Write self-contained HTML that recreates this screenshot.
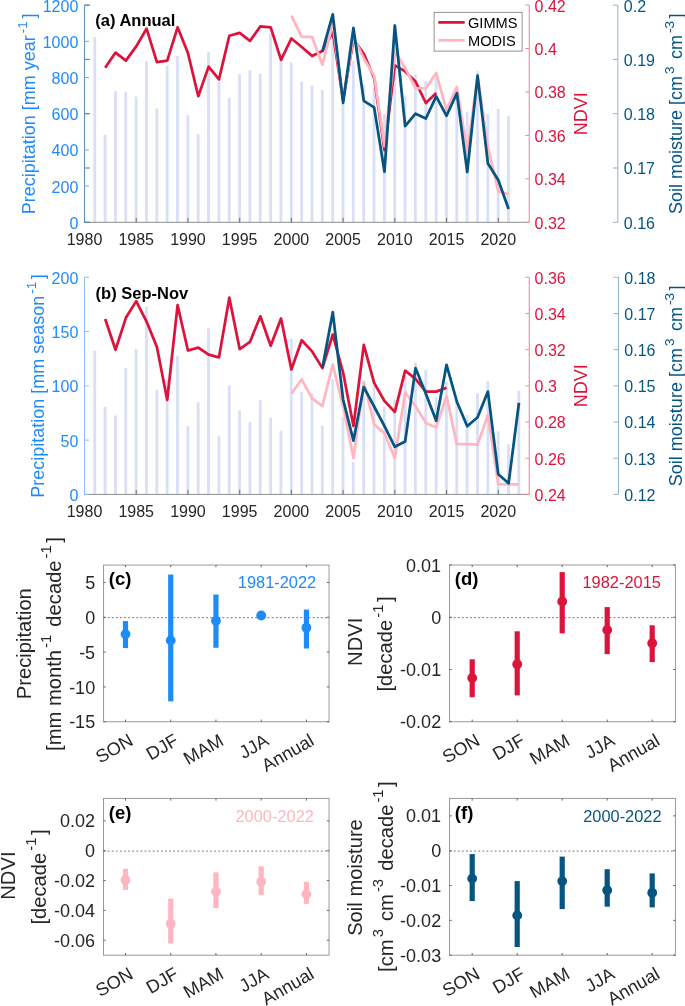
<!DOCTYPE html>
<html><head><meta charset="utf-8"><style>
html,body{margin:0;padding:0;background:#fff;}
svg{display:block;font-family:"Liberation Sans", sans-serif;will-change:transform;}
</style></head><body>
<svg width="685" height="1006" viewBox="0 0 685 1006">
<rect width="685" height="1006" fill="#fff"/>
<rect x="93.34" y="37.00" width="2.8" height="185.30" fill="#d9dff6"/>
<rect x="103.69" y="134.90" width="2.8" height="87.40" fill="#d9dff6"/>
<rect x="114.03" y="91.00" width="2.8" height="131.30" fill="#d9dff6"/>
<rect x="124.38" y="91.90" width="2.8" height="130.40" fill="#d9dff6"/>
<rect x="134.72" y="96.60" width="2.8" height="125.70" fill="#d9dff6"/>
<rect x="145.06" y="61.10" width="2.8" height="161.20" fill="#d9dff6"/>
<rect x="155.41" y="108.50" width="2.8" height="113.80" fill="#d9dff6"/>
<rect x="165.75" y="65.30" width="2.8" height="157.00" fill="#d9dff6"/>
<rect x="176.10" y="55.90" width="2.8" height="166.40" fill="#d9dff6"/>
<rect x="186.44" y="115.20" width="2.8" height="107.10" fill="#d9dff6"/>
<rect x="196.78" y="134.20" width="2.8" height="88.10" fill="#d9dff6"/>
<rect x="207.13" y="52.10" width="2.8" height="170.20" fill="#d9dff6"/>
<rect x="217.47" y="81.60" width="2.8" height="140.70" fill="#d9dff6"/>
<rect x="227.82" y="97.70" width="2.8" height="124.60" fill="#d9dff6"/>
<rect x="238.16" y="74.00" width="2.8" height="148.30" fill="#d9dff6"/>
<rect x="248.50" y="70.20" width="2.8" height="152.10" fill="#d9dff6"/>
<rect x="258.85" y="73.60" width="2.8" height="148.70" fill="#d9dff6"/>
<rect x="269.19" y="33.50" width="2.8" height="188.80" fill="#d9dff6"/>
<rect x="279.54" y="53.70" width="2.8" height="168.60" fill="#d9dff6"/>
<rect x="289.88" y="62.60" width="2.8" height="159.70" fill="#d9dff6"/>
<rect x="300.22" y="81.80" width="2.8" height="140.50" fill="#d9dff6"/>
<rect x="310.57" y="85.40" width="2.8" height="136.90" fill="#d9dff6"/>
<rect x="320.91" y="90.10" width="2.8" height="132.20" fill="#d9dff6"/>
<rect x="331.26" y="41.80" width="2.8" height="180.50" fill="#d9dff6"/>
<rect x="341.60" y="103.50" width="2.8" height="118.80" fill="#d9dff6"/>
<rect x="351.94" y="60.80" width="2.8" height="161.50" fill="#d9dff6"/>
<rect x="362.29" y="84.50" width="2.8" height="137.80" fill="#d9dff6"/>
<rect x="372.63" y="88.30" width="2.8" height="134.00" fill="#d9dff6"/>
<rect x="382.98" y="114.00" width="2.8" height="108.30" fill="#d9dff6"/>
<rect x="393.32" y="40.00" width="2.8" height="182.30" fill="#d9dff6"/>
<rect x="403.66" y="96.00" width="2.8" height="126.30" fill="#d9dff6"/>
<rect x="414.01" y="74.60" width="2.8" height="147.70" fill="#d9dff6"/>
<rect x="424.35" y="80.90" width="2.8" height="141.40" fill="#d9dff6"/>
<rect x="434.70" y="77.30" width="2.8" height="145.00" fill="#d9dff6"/>
<rect x="445.04" y="111.00" width="2.8" height="111.30" fill="#d9dff6"/>
<rect x="455.38" y="95.00" width="2.8" height="127.30" fill="#d9dff6"/>
<rect x="465.73" y="111.90" width="2.8" height="110.40" fill="#d9dff6"/>
<rect x="476.07" y="71.20" width="2.8" height="151.10" fill="#d9dff6"/>
<rect x="486.42" y="114.00" width="2.8" height="108.30" fill="#d9dff6"/>
<rect x="496.76" y="108.90" width="2.8" height="113.40" fill="#d9dff6"/>
<rect x="507.10" y="115.80" width="2.8" height="106.50" fill="#d9dff6"/>
<polyline points="105.19,67.80 115.53,52.60 125.88,60.60 136.22,46.40 146.56,28.70 156.91,62.20 167.25,60.60 177.60,27.30 187.94,53.00 198.28,96.20 208.63,66.60 218.97,79.40 229.32,35.80 239.66,32.90 250.00,40.90 260.35,26.40 270.69,27.30 281.04,59.90 291.38,38.50 301.72,47.00 312.07,55.90 322.41,51.00 332.76,32.20 343.10,100.00 353.44,39.40 363.79,53.70 374.13,77.80 384.48,150.00 394.82,65.40 405.16,71.40 415.51,81.50 425.85,103.00 436.20,92.90" fill="none" stroke="#dc143c" stroke-width="2.75" stroke-linejoin="round" stroke-linecap="butt"/>
<polyline points="291.38,15.70 301.72,36.90 312.07,36.90 322.41,64.80 332.76,23.50 343.10,100.00 353.44,36.90 363.79,58.50 374.13,75.50 384.48,146.00 394.82,51.10 405.16,68.00 415.51,88.10 425.85,88.50 436.20,73.00 446.54,110.10 456.88,86.90 467.23,152.00 477.57,76.00 487.92,147.00 498.26,191.20 508.60,194.10" fill="none" stroke="#ffb6c1" stroke-width="2.75" stroke-linejoin="round" stroke-linecap="butt"/>
<polyline points="322.41,51.40 332.76,14.30 343.10,102.80 353.44,28.00 363.79,100.80 374.13,107.40 384.48,171.70 394.82,25.50 405.16,126.20 415.51,113.70 425.85,118.50 436.20,96.40 446.54,115.80 456.88,93.30 467.23,172.00 477.57,75.60 487.92,163.50 498.26,180.00 508.60,209.00" fill="none" stroke="#065581" stroke-width="2.75" stroke-linejoin="round" stroke-linecap="butt"/>
<line x1="84.50" y1="222.30" x2="529.25" y2="222.30" stroke="#8c8c8c" stroke-width="1" />
<line x1="84.50" y1="222.30" x2="84.50" y2="217.80" stroke="#555" stroke-width="0.8" />
<text x="84.50" y="244.60" font-size="16.0" fill="#262626" text-anchor="middle" font-weight="normal" >1980</text>
<line x1="136.22" y1="222.30" x2="136.22" y2="217.80" stroke="#555" stroke-width="0.8" />
<text x="136.22" y="244.60" font-size="16.0" fill="#262626" text-anchor="middle" font-weight="normal" >1985</text>
<line x1="187.94" y1="222.30" x2="187.94" y2="217.80" stroke="#555" stroke-width="0.8" />
<text x="187.94" y="244.60" font-size="16.0" fill="#262626" text-anchor="middle" font-weight="normal" >1990</text>
<line x1="239.66" y1="222.30" x2="239.66" y2="217.80" stroke="#555" stroke-width="0.8" />
<text x="239.66" y="244.60" font-size="16.0" fill="#262626" text-anchor="middle" font-weight="normal" >1995</text>
<line x1="291.38" y1="222.30" x2="291.38" y2="217.80" stroke="#555" stroke-width="0.8" />
<text x="291.38" y="244.60" font-size="16.0" fill="#262626" text-anchor="middle" font-weight="normal" >2000</text>
<line x1="343.10" y1="222.30" x2="343.10" y2="217.80" stroke="#555" stroke-width="0.8" />
<text x="343.10" y="244.60" font-size="16.0" fill="#262626" text-anchor="middle" font-weight="normal" >2005</text>
<line x1="394.82" y1="222.30" x2="394.82" y2="217.80" stroke="#555" stroke-width="0.8" />
<text x="394.82" y="244.60" font-size="16.0" fill="#262626" text-anchor="middle" font-weight="normal" >2010</text>
<line x1="446.54" y1="222.30" x2="446.54" y2="217.80" stroke="#555" stroke-width="0.8" />
<text x="446.54" y="244.60" font-size="16.0" fill="#262626" text-anchor="middle" font-weight="normal" >2015</text>
<line x1="498.26" y1="222.30" x2="498.26" y2="217.80" stroke="#555" stroke-width="0.8" />
<text x="498.26" y="244.60" font-size="16.0" fill="#262626" text-anchor="middle" font-weight="normal" >2020</text>
<line x1="84.50" y1="5.10" x2="84.50" y2="222.30" stroke="#5f93bd" stroke-width="1.1" />
<line x1="84.50" y1="222.30" x2="89.00" y2="222.30" stroke="#66aaf5" stroke-width="1" />
<text x="78.30" y="228.80" font-size="16.0" fill="#1e8bfb" text-anchor="end" font-weight="normal" >0</text>
<line x1="84.50" y1="186.10" x2="89.00" y2="186.10" stroke="#66aaf5" stroke-width="1" />
<text x="78.30" y="192.60" font-size="16.0" fill="#1e8bfb" text-anchor="end" font-weight="normal" >200</text>
<line x1="84.50" y1="149.90" x2="89.00" y2="149.90" stroke="#66aaf5" stroke-width="1" />
<text x="78.30" y="156.40" font-size="16.0" fill="#1e8bfb" text-anchor="end" font-weight="normal" >400</text>
<line x1="84.50" y1="113.70" x2="89.00" y2="113.70" stroke="#66aaf5" stroke-width="1" />
<text x="78.30" y="120.20" font-size="16.0" fill="#1e8bfb" text-anchor="end" font-weight="normal" >600</text>
<line x1="84.50" y1="77.50" x2="89.00" y2="77.50" stroke="#66aaf5" stroke-width="1" />
<text x="78.30" y="84.00" font-size="16.0" fill="#1e8bfb" text-anchor="end" font-weight="normal" >800</text>
<line x1="84.50" y1="41.30" x2="89.00" y2="41.30" stroke="#66aaf5" stroke-width="1" />
<text x="78.30" y="47.80" font-size="16.0" fill="#1e8bfb" text-anchor="end" font-weight="normal" >1000</text>
<line x1="84.50" y1="5.10" x2="89.00" y2="5.10" stroke="#66aaf5" stroke-width="1" />
<text x="78.30" y="11.60" font-size="16.0" fill="#1e8bfb" text-anchor="end" font-weight="normal" >1200</text>
<line x1="84.50" y1="222.30" x2="90.00" y2="222.30" stroke="#4a7fa5" stroke-width="1" />
<line x1="84.50" y1="168.00" x2="90.00" y2="168.00" stroke="#4a7fa5" stroke-width="1" />
<line x1="84.50" y1="113.70" x2="90.00" y2="113.70" stroke="#4a7fa5" stroke-width="1" />
<line x1="84.50" y1="59.40" x2="90.00" y2="59.40" stroke="#4a7fa5" stroke-width="1" />
<line x1="84.50" y1="5.10" x2="90.00" y2="5.10" stroke="#4a7fa5" stroke-width="1" />
<line x1="529.25" y1="5.10" x2="529.25" y2="222.30" stroke="#ea8299" stroke-width="1" />
<line x1="525.25" y1="222.30" x2="529.25" y2="222.30" stroke="#ee8ea3" stroke-width="1" />
<text x="534.60" y="228.70" font-size="16.0" fill="#dc143c" text-anchor="start" font-weight="normal" >0.32</text>
<line x1="525.25" y1="178.86" x2="529.25" y2="178.86" stroke="#ee8ea3" stroke-width="1" />
<text x="534.60" y="185.26" font-size="16.0" fill="#dc143c" text-anchor="start" font-weight="normal" >0.34</text>
<line x1="525.25" y1="135.42" x2="529.25" y2="135.42" stroke="#ee8ea3" stroke-width="1" />
<text x="534.60" y="141.82" font-size="16.0" fill="#dc143c" text-anchor="start" font-weight="normal" >0.36</text>
<line x1="525.25" y1="91.98" x2="529.25" y2="91.98" stroke="#ee8ea3" stroke-width="1" />
<text x="534.60" y="98.38" font-size="16.0" fill="#dc143c" text-anchor="start" font-weight="normal" >0.38</text>
<line x1="525.25" y1="48.54" x2="529.25" y2="48.54" stroke="#ee8ea3" stroke-width="1" />
<text x="534.60" y="54.94" font-size="16.0" fill="#dc143c" text-anchor="start" font-weight="normal" >0.4</text>
<line x1="525.25" y1="5.10" x2="529.25" y2="5.10" stroke="#ee8ea3" stroke-width="1" />
<text x="534.60" y="11.50" font-size="16.0" fill="#dc143c" text-anchor="start" font-weight="normal" >0.42</text>
<line x1="617.80" y1="5.10" x2="617.80" y2="222.30" stroke="#8fb3cc" stroke-width="1" />
<line x1="612.80" y1="222.30" x2="617.80" y2="222.30" stroke="#8fb3cc" stroke-width="1" />
<text x="623.80" y="228.70" font-size="16.0" fill="#065581" text-anchor="start" font-weight="normal" >0.16</text>
<line x1="612.80" y1="168.00" x2="617.80" y2="168.00" stroke="#8fb3cc" stroke-width="1" />
<text x="623.80" y="174.40" font-size="16.0" fill="#065581" text-anchor="start" font-weight="normal" >0.17</text>
<line x1="612.80" y1="113.70" x2="617.80" y2="113.70" stroke="#8fb3cc" stroke-width="1" />
<text x="623.80" y="120.10" font-size="16.0" fill="#065581" text-anchor="start" font-weight="normal" >0.18</text>
<line x1="612.80" y1="59.40" x2="617.80" y2="59.40" stroke="#8fb3cc" stroke-width="1" />
<text x="623.80" y="65.80" font-size="16.0" fill="#065581" text-anchor="start" font-weight="normal" >0.19</text>
<line x1="612.80" y1="5.10" x2="617.80" y2="5.10" stroke="#8fb3cc" stroke-width="1" />
<text x="623.80" y="11.50" font-size="16.0" fill="#065581" text-anchor="start" font-weight="normal" >0.2</text>
<text transform="translate(35.00,113.90) rotate(-90)" font-size="18" fill="#1e8bfb" text-anchor="middle">Precipitation [mm year<tspan font-size="13.5" dx="2.0" dy="-8.0">-1</tspan><tspan dx="2.5" dy="8.0">]</tspan></text>
<text transform="translate(587.00,113.70) rotate(-90)" font-size="18" fill="#dc143c" text-anchor="middle">NDVI</text>
<text transform="translate(681.70,113.70) rotate(-90)" font-size="18" fill="#065581" text-anchor="middle">Soil moisture [cm<tspan font-size="13.5" dx="2.0" dy="-8.0">3</tspan><tspan dx="2.5" dy="8.0"> cm</tspan><tspan font-size="13.5" dx="2.0" dy="-8.0">-3</tspan><tspan dx="2.5" dy="8.0">]</tspan></text>
<text x="95.30" y="26.40" font-size="16.5" fill="#000" text-anchor="start" font-weight="bold" >(a) Annual</text>
<rect x="434.1" y="12.3" width="88.0" height="38.8" fill="#fff" stroke="#777" stroke-width="0.8"/>
<line x1="438.30" y1="22.40" x2="464.70" y2="22.40" stroke="#dc143c" stroke-width="2.75" />
<line x1="438.30" y1="40.30" x2="464.70" y2="40.30" stroke="#ffb6c1" stroke-width="2.75" />
<text x="468.00" y="28.10" font-size="14.6" fill="#000" text-anchor="start" font-weight="normal" >GIMMS</text>
<text x="468.00" y="46.00" font-size="14.6" fill="#000" text-anchor="start" font-weight="normal" >MODIS</text>
<rect x="93.34" y="350.70" width="2.8" height="143.70" fill="#d9dff6"/>
<rect x="103.69" y="407.00" width="2.8" height="87.40" fill="#d9dff6"/>
<rect x="114.03" y="415.50" width="2.8" height="78.90" fill="#d9dff6"/>
<rect x="124.38" y="368.10" width="2.8" height="126.30" fill="#d9dff6"/>
<rect x="134.72" y="348.90" width="2.8" height="145.50" fill="#d9dff6"/>
<rect x="145.06" y="306.70" width="2.8" height="187.70" fill="#d9dff6"/>
<rect x="155.41" y="389.80" width="2.8" height="104.60" fill="#d9dff6"/>
<rect x="165.75" y="380.00" width="2.8" height="114.40" fill="#d9dff6"/>
<rect x="176.10" y="355.80" width="2.8" height="138.60" fill="#d9dff6"/>
<rect x="186.44" y="426.30" width="2.8" height="68.10" fill="#d9dff6"/>
<rect x="196.78" y="402.30" width="2.8" height="92.10" fill="#d9dff6"/>
<rect x="207.13" y="328.30" width="2.8" height="166.10" fill="#d9dff6"/>
<rect x="217.47" y="435.70" width="2.8" height="58.70" fill="#d9dff6"/>
<rect x="227.82" y="385.40" width="2.8" height="109.00" fill="#d9dff6"/>
<rect x="238.16" y="410.60" width="2.8" height="83.80" fill="#d9dff6"/>
<rect x="248.50" y="421.80" width="2.8" height="72.60" fill="#d9dff6"/>
<rect x="258.85" y="400.10" width="2.8" height="94.30" fill="#d9dff6"/>
<rect x="269.19" y="417.80" width="2.8" height="76.60" fill="#d9dff6"/>
<rect x="279.54" y="430.70" width="2.8" height="63.70" fill="#d9dff6"/>
<rect x="289.88" y="338.80" width="2.8" height="155.60" fill="#d9dff6"/>
<rect x="300.22" y="392.10" width="2.8" height="102.30" fill="#d9dff6"/>
<rect x="310.57" y="393.40" width="2.8" height="101.00" fill="#d9dff6"/>
<rect x="320.91" y="425.80" width="2.8" height="68.60" fill="#d9dff6"/>
<rect x="331.26" y="379.20" width="2.8" height="115.20" fill="#d9dff6"/>
<rect x="341.60" y="416.70" width="2.8" height="77.70" fill="#d9dff6"/>
<rect x="351.94" y="462.00" width="2.8" height="32.40" fill="#d9dff6"/>
<rect x="362.29" y="396.40" width="2.8" height="98.00" fill="#d9dff6"/>
<rect x="372.63" y="385.40" width="2.8" height="109.00" fill="#d9dff6"/>
<rect x="382.98" y="406.60" width="2.8" height="87.80" fill="#d9dff6"/>
<rect x="393.32" y="399.80" width="2.8" height="94.60" fill="#d9dff6"/>
<rect x="403.66" y="375.00" width="2.8" height="119.40" fill="#d9dff6"/>
<rect x="414.01" y="362.50" width="2.8" height="131.90" fill="#d9dff6"/>
<rect x="424.35" y="369.90" width="2.8" height="124.50" fill="#d9dff6"/>
<rect x="434.70" y="397.20" width="2.8" height="97.20" fill="#d9dff6"/>
<rect x="445.04" y="381.60" width="2.8" height="112.80" fill="#d9dff6"/>
<rect x="455.38" y="400.00" width="2.8" height="94.40" fill="#d9dff6"/>
<rect x="465.73" y="415.10" width="2.8" height="79.30" fill="#d9dff6"/>
<rect x="476.07" y="393.20" width="2.8" height="101.20" fill="#d9dff6"/>
<rect x="486.42" y="380.90" width="2.8" height="113.50" fill="#d9dff6"/>
<rect x="496.76" y="431.20" width="2.8" height="63.20" fill="#d9dff6"/>
<rect x="507.10" y="444.20" width="2.8" height="50.20" fill="#d9dff6"/>
<rect x="517.45" y="390.90" width="2.8" height="103.50" fill="#d9dff6"/>
<polyline points="105.19,319.00 115.53,349.80 125.88,317.80 136.22,301.10 146.56,321.60 156.91,346.90 167.25,399.90 177.60,305.10 187.94,350.50 198.28,347.60 208.63,354.70 218.97,357.40 229.32,297.70 239.66,349.10 250.00,341.80 260.35,316.30 270.69,345.80 281.04,318.50 291.38,369.50 301.72,340.20 312.07,351.40 322.41,368.10 332.76,334.50 343.10,372.50 353.44,426.00 363.79,344.80 374.13,382.90 384.48,401.00 394.82,411.90 405.16,370.60 415.51,378.90 425.85,391.60 436.20,391.60 446.54,387.80" fill="none" stroke="#dc143c" stroke-width="2.75" stroke-linejoin="round" stroke-linecap="butt"/>
<polyline points="291.38,393.80 301.72,379.30 312.07,398.30 322.41,406.10 332.76,364.50 343.10,406.60 353.44,458.00 363.79,382.00 374.13,424.20 384.48,433.40 394.82,458.00 405.16,392.50 415.51,406.10 425.85,422.90 436.20,427.40 446.54,396.10 456.88,444.20 467.23,444.20 477.57,444.60 487.92,415.10 498.26,484.00 508.60,484.40 518.95,484.40" fill="none" stroke="#ffb6c1" stroke-width="2.75" stroke-linejoin="round" stroke-linecap="butt"/>
<polyline points="322.41,368.10 332.76,312.20 343.10,399.50 353.44,440.60 363.79,387.10 374.13,406.50 384.48,426.20 394.82,446.80 405.16,441.50 415.51,368.10 425.85,393.80 436.20,420.70 446.54,364.80 456.88,401.70 467.23,426.30 477.57,417.30 487.92,391.60 498.26,474.30 508.60,483.30 518.95,402.80" fill="none" stroke="#065581" stroke-width="2.75" stroke-linejoin="round" stroke-linecap="butt"/>
<line x1="84.50" y1="494.40" x2="529.25" y2="494.40" stroke="#8c8c8c" stroke-width="1" />
<line x1="84.50" y1="494.40" x2="84.50" y2="489.90" stroke="#555" stroke-width="0.8" />
<text x="84.50" y="516.70" font-size="16.0" fill="#262626" text-anchor="middle" font-weight="normal" >1980</text>
<line x1="136.22" y1="494.40" x2="136.22" y2="489.90" stroke="#555" stroke-width="0.8" />
<text x="136.22" y="516.70" font-size="16.0" fill="#262626" text-anchor="middle" font-weight="normal" >1985</text>
<line x1="187.94" y1="494.40" x2="187.94" y2="489.90" stroke="#555" stroke-width="0.8" />
<text x="187.94" y="516.70" font-size="16.0" fill="#262626" text-anchor="middle" font-weight="normal" >1990</text>
<line x1="239.66" y1="494.40" x2="239.66" y2="489.90" stroke="#555" stroke-width="0.8" />
<text x="239.66" y="516.70" font-size="16.0" fill="#262626" text-anchor="middle" font-weight="normal" >1995</text>
<line x1="291.38" y1="494.40" x2="291.38" y2="489.90" stroke="#555" stroke-width="0.8" />
<text x="291.38" y="516.70" font-size="16.0" fill="#262626" text-anchor="middle" font-weight="normal" >2000</text>
<line x1="343.10" y1="494.40" x2="343.10" y2="489.90" stroke="#555" stroke-width="0.8" />
<text x="343.10" y="516.70" font-size="16.0" fill="#262626" text-anchor="middle" font-weight="normal" >2005</text>
<line x1="394.82" y1="494.40" x2="394.82" y2="489.90" stroke="#555" stroke-width="0.8" />
<text x="394.82" y="516.70" font-size="16.0" fill="#262626" text-anchor="middle" font-weight="normal" >2010</text>
<line x1="446.54" y1="494.40" x2="446.54" y2="489.90" stroke="#555" stroke-width="0.8" />
<text x="446.54" y="516.70" font-size="16.0" fill="#262626" text-anchor="middle" font-weight="normal" >2015</text>
<line x1="498.26" y1="494.40" x2="498.26" y2="489.90" stroke="#555" stroke-width="0.8" />
<text x="498.26" y="516.70" font-size="16.0" fill="#262626" text-anchor="middle" font-weight="normal" >2020</text>
<line x1="84.50" y1="277.30" x2="84.50" y2="494.40" stroke="#8cc0f8" stroke-width="1.1" />
<line x1="84.50" y1="494.40" x2="89.00" y2="494.40" stroke="#8cc0f8" stroke-width="1" />
<text x="78.30" y="500.90" font-size="16.0" fill="#1e8bfb" text-anchor="end" font-weight="normal" >0</text>
<line x1="84.50" y1="440.12" x2="89.00" y2="440.12" stroke="#8cc0f8" stroke-width="1" />
<text x="78.30" y="446.62" font-size="16.0" fill="#1e8bfb" text-anchor="end" font-weight="normal" >50</text>
<line x1="84.50" y1="385.85" x2="89.00" y2="385.85" stroke="#8cc0f8" stroke-width="1" />
<text x="78.30" y="392.35" font-size="16.0" fill="#1e8bfb" text-anchor="end" font-weight="normal" >100</text>
<line x1="84.50" y1="331.57" x2="89.00" y2="331.57" stroke="#8cc0f8" stroke-width="1" />
<text x="78.30" y="338.07" font-size="16.0" fill="#1e8bfb" text-anchor="end" font-weight="normal" >150</text>
<line x1="84.50" y1="277.30" x2="89.00" y2="277.30" stroke="#8cc0f8" stroke-width="1" />
<text x="78.30" y="283.80" font-size="16.0" fill="#1e8bfb" text-anchor="end" font-weight="normal" >200</text>
<line x1="529.25" y1="277.30" x2="529.25" y2="494.40" stroke="#ea8299" stroke-width="1" />
<line x1="525.25" y1="494.40" x2="529.25" y2="494.40" stroke="#ee8ea3" stroke-width="1" />
<text x="534.60" y="500.80" font-size="16.0" fill="#dc143c" text-anchor="start" font-weight="normal" >0.24</text>
<line x1="525.25" y1="458.22" x2="529.25" y2="458.22" stroke="#ee8ea3" stroke-width="1" />
<text x="534.60" y="464.62" font-size="16.0" fill="#dc143c" text-anchor="start" font-weight="normal" >0.26</text>
<line x1="525.25" y1="422.03" x2="529.25" y2="422.03" stroke="#ee8ea3" stroke-width="1" />
<text x="534.60" y="428.43" font-size="16.0" fill="#dc143c" text-anchor="start" font-weight="normal" >0.28</text>
<line x1="525.25" y1="385.85" x2="529.25" y2="385.85" stroke="#ee8ea3" stroke-width="1" />
<text x="534.60" y="392.25" font-size="16.0" fill="#dc143c" text-anchor="start" font-weight="normal" >0.3</text>
<line x1="525.25" y1="349.67" x2="529.25" y2="349.67" stroke="#ee8ea3" stroke-width="1" />
<text x="534.60" y="356.07" font-size="16.0" fill="#dc143c" text-anchor="start" font-weight="normal" >0.32</text>
<line x1="525.25" y1="313.48" x2="529.25" y2="313.48" stroke="#ee8ea3" stroke-width="1" />
<text x="534.60" y="319.88" font-size="16.0" fill="#dc143c" text-anchor="start" font-weight="normal" >0.34</text>
<line x1="525.25" y1="277.30" x2="529.25" y2="277.30" stroke="#ee8ea3" stroke-width="1" />
<text x="534.60" y="283.70" font-size="16.0" fill="#dc143c" text-anchor="start" font-weight="normal" >0.36</text>
<line x1="618.50" y1="277.30" x2="618.50" y2="494.40" stroke="#8fb3cc" stroke-width="1" />
<line x1="613.50" y1="494.40" x2="618.50" y2="494.40" stroke="#8fb3cc" stroke-width="1" />
<text x="624.30" y="500.80" font-size="16.0" fill="#065581" text-anchor="start" font-weight="normal" >0.12</text>
<line x1="613.50" y1="458.22" x2="618.50" y2="458.22" stroke="#8fb3cc" stroke-width="1" />
<text x="624.30" y="464.62" font-size="16.0" fill="#065581" text-anchor="start" font-weight="normal" >0.13</text>
<line x1="613.50" y1="422.03" x2="618.50" y2="422.03" stroke="#8fb3cc" stroke-width="1" />
<text x="624.30" y="428.43" font-size="16.0" fill="#065581" text-anchor="start" font-weight="normal" >0.14</text>
<line x1="613.50" y1="385.85" x2="618.50" y2="385.85" stroke="#8fb3cc" stroke-width="1" />
<text x="624.30" y="392.25" font-size="16.0" fill="#065581" text-anchor="start" font-weight="normal" >0.15</text>
<line x1="613.50" y1="349.67" x2="618.50" y2="349.67" stroke="#8fb3cc" stroke-width="1" />
<text x="624.30" y="356.07" font-size="16.0" fill="#065581" text-anchor="start" font-weight="normal" >0.16</text>
<line x1="613.50" y1="313.48" x2="618.50" y2="313.48" stroke="#8fb3cc" stroke-width="1" />
<text x="624.30" y="319.88" font-size="16.0" fill="#065581" text-anchor="start" font-weight="normal" >0.17</text>
<line x1="613.50" y1="277.30" x2="618.50" y2="277.30" stroke="#8fb3cc" stroke-width="1" />
<text x="624.30" y="283.70" font-size="16.0" fill="#065581" text-anchor="start" font-weight="normal" >0.18</text>
<text transform="translate(44.30,386.05) rotate(-90)" font-size="18" fill="#1e8bfb" text-anchor="middle">Precipitation [mm season<tspan font-size="13.5" dx="2.0" dy="-8.0">-1</tspan><tspan dx="2.5" dy="8.0">]</tspan></text>
<text transform="translate(587.00,385.85) rotate(-90)" font-size="18" fill="#dc143c" text-anchor="middle">NDVI</text>
<text transform="translate(681.70,385.85) rotate(-90)" font-size="18" fill="#065581" text-anchor="middle">Soil moisture [cm<tspan font-size="13.5" dx="2.0" dy="-8.0">3</tspan><tspan dx="2.5" dy="8.0"> cm</tspan><tspan font-size="13.5" dx="2.0" dy="-8.0">-3</tspan><tspan dx="2.5" dy="8.0">]</tspan></text>
<text x="95.60" y="299.00" font-size="16.5" fill="#000" text-anchor="start" font-weight="bold" >(b) Sep-Nov</text>
<rect x="103.55" y="565.05" width="225.50" height="156.70" fill="none" stroke="#9a9a9a" stroke-width="1"/>
<line x1="103.55" y1="617.68" x2="329.05" y2="617.68" stroke="#777" stroke-width="1" stroke-dasharray="1.9 2.2"/>
<line x1="103.55" y1="721.75" x2="105.75" y2="721.75" stroke="#444" stroke-width="0.8" />
<line x1="329.05" y1="721.75" x2="326.85" y2="721.75" stroke="#444" stroke-width="0.8" />
<text x="95.15" y="728.35" font-size="18.0" fill="#262626" text-anchor="end" font-weight="normal" >-15</text>
<line x1="103.55" y1="686.93" x2="105.75" y2="686.93" stroke="#444" stroke-width="0.8" />
<line x1="329.05" y1="686.93" x2="326.85" y2="686.93" stroke="#444" stroke-width="0.8" />
<text x="95.15" y="693.53" font-size="18.0" fill="#262626" text-anchor="end" font-weight="normal" >-10</text>
<line x1="103.55" y1="652.11" x2="105.75" y2="652.11" stroke="#444" stroke-width="0.8" />
<line x1="329.05" y1="652.11" x2="326.85" y2="652.11" stroke="#444" stroke-width="0.8" />
<text x="95.15" y="658.71" font-size="18.0" fill="#262626" text-anchor="end" font-weight="normal" >-5</text>
<line x1="103.55" y1="617.28" x2="105.75" y2="617.28" stroke="#444" stroke-width="0.8" />
<line x1="329.05" y1="617.28" x2="326.85" y2="617.28" stroke="#444" stroke-width="0.8" />
<text x="95.15" y="623.88" font-size="18.0" fill="#262626" text-anchor="end" font-weight="normal" >0</text>
<line x1="103.55" y1="582.46" x2="105.75" y2="582.46" stroke="#444" stroke-width="0.8" />
<line x1="329.05" y1="582.46" x2="326.85" y2="582.46" stroke="#444" stroke-width="0.8" />
<text x="95.15" y="589.06" font-size="18.0" fill="#262626" text-anchor="end" font-weight="normal" >5</text>
<line x1="125.50" y1="721.75" x2="125.50" y2="719.55" stroke="#444" stroke-width="0.8" />
<line x1="125.50" y1="565.05" x2="125.50" y2="567.25" stroke="#444" stroke-width="0.8" />
<text transform="translate(134.40,744.05) rotate(-30)" font-size="18.2" fill="#262626" text-anchor="end">SON</text>
<line x1="170.73" y1="721.75" x2="170.73" y2="719.55" stroke="#444" stroke-width="0.8" />
<line x1="170.73" y1="565.05" x2="170.73" y2="567.25" stroke="#444" stroke-width="0.8" />
<text transform="translate(179.63,744.05) rotate(-30)" font-size="18.2" fill="#262626" text-anchor="end">DJF</text>
<line x1="215.96" y1="721.75" x2="215.96" y2="719.55" stroke="#444" stroke-width="0.8" />
<line x1="215.96" y1="565.05" x2="215.96" y2="567.25" stroke="#444" stroke-width="0.8" />
<text transform="translate(224.86,744.05) rotate(-30)" font-size="18.2" fill="#262626" text-anchor="end">MAM</text>
<line x1="261.19" y1="721.75" x2="261.19" y2="719.55" stroke="#444" stroke-width="0.8" />
<line x1="261.19" y1="565.05" x2="261.19" y2="567.25" stroke="#444" stroke-width="0.8" />
<text transform="translate(270.09,744.05) rotate(-30)" font-size="18.2" fill="#262626" text-anchor="end">JJA</text>
<line x1="306.42" y1="721.75" x2="306.42" y2="719.55" stroke="#444" stroke-width="0.8" />
<line x1="306.42" y1="565.05" x2="306.42" y2="567.25" stroke="#444" stroke-width="0.8" />
<text transform="translate(315.32,744.05) rotate(-30)" font-size="18.2" fill="#262626" text-anchor="end">Annual</text>
<line x1="125.50" y1="621.10" x2="125.50" y2="648.10" stroke="#1e8bfb" stroke-width="5.2" />
<circle cx="125.50" cy="634.10" r="4.9" fill="#1e8bfb"/>
<line x1="170.73" y1="574.50" x2="170.73" y2="701.40" stroke="#1e8bfb" stroke-width="5.2" />
<circle cx="170.73" cy="640.40" r="4.9" fill="#1e8bfb"/>
<line x1="215.96" y1="594.50" x2="215.96" y2="647.80" stroke="#1e8bfb" stroke-width="5.2" />
<circle cx="215.96" cy="620.80" r="4.9" fill="#1e8bfb"/>
<circle cx="261.19" cy="615.50" r="4.9" fill="#1e8bfb"/>
<line x1="306.42" y1="609.60" x2="306.42" y2="648.50" stroke="#1e8bfb" stroke-width="5.2" />
<circle cx="306.42" cy="627.80" r="4.9" fill="#1e8bfb"/>
<text x="108.85" y="585.35" font-size="18.5" fill="#000" text-anchor="start" font-weight="bold" >(c)</text>
<text x="237.80" y="588.35" font-size="16.4" fill="#1e8bfb" text-anchor="start" font-weight="normal" >1981-2022</text>
<rect x="449.55" y="565.00" width="225.85" height="156.75" fill="none" stroke="#9a9a9a" stroke-width="1"/>
<line x1="449.55" y1="617.65" x2="675.40" y2="617.65" stroke="#777" stroke-width="1" stroke-dasharray="1.9 2.2"/>
<line x1="449.55" y1="721.75" x2="451.75" y2="721.75" stroke="#444" stroke-width="0.8" />
<line x1="675.40" y1="721.75" x2="673.20" y2="721.75" stroke="#444" stroke-width="0.8" />
<text x="441.15" y="728.35" font-size="18.0" fill="#262626" text-anchor="end" font-weight="normal" >-0.02</text>
<line x1="449.55" y1="669.50" x2="451.75" y2="669.50" stroke="#444" stroke-width="0.8" />
<line x1="675.40" y1="669.50" x2="673.20" y2="669.50" stroke="#444" stroke-width="0.8" />
<text x="441.15" y="676.10" font-size="18.0" fill="#262626" text-anchor="end" font-weight="normal" >-0.01</text>
<line x1="449.55" y1="617.25" x2="451.75" y2="617.25" stroke="#444" stroke-width="0.8" />
<line x1="675.40" y1="617.25" x2="673.20" y2="617.25" stroke="#444" stroke-width="0.8" />
<text x="441.15" y="623.85" font-size="18.0" fill="#262626" text-anchor="end" font-weight="normal" >0</text>
<line x1="449.55" y1="565.00" x2="451.75" y2="565.00" stroke="#444" stroke-width="0.8" />
<line x1="675.40" y1="565.00" x2="673.20" y2="565.00" stroke="#444" stroke-width="0.8" />
<text x="441.15" y="571.60" font-size="18.0" fill="#262626" text-anchor="end" font-weight="normal" >0.01</text>
<line x1="472.20" y1="721.75" x2="472.20" y2="719.55" stroke="#444" stroke-width="0.8" />
<line x1="472.20" y1="565.00" x2="472.20" y2="567.20" stroke="#444" stroke-width="0.8" />
<text transform="translate(481.10,744.05) rotate(-30)" font-size="18.2" fill="#262626" text-anchor="end">SON</text>
<line x1="517.20" y1="721.75" x2="517.20" y2="719.55" stroke="#444" stroke-width="0.8" />
<line x1="517.20" y1="565.00" x2="517.20" y2="567.20" stroke="#444" stroke-width="0.8" />
<text transform="translate(526.10,744.05) rotate(-30)" font-size="18.2" fill="#262626" text-anchor="end">DJF</text>
<line x1="562.20" y1="721.75" x2="562.20" y2="719.55" stroke="#444" stroke-width="0.8" />
<line x1="562.20" y1="565.00" x2="562.20" y2="567.20" stroke="#444" stroke-width="0.8" />
<text transform="translate(571.10,744.05) rotate(-30)" font-size="18.2" fill="#262626" text-anchor="end">MAM</text>
<line x1="607.20" y1="721.75" x2="607.20" y2="719.55" stroke="#444" stroke-width="0.8" />
<line x1="607.20" y1="565.00" x2="607.20" y2="567.20" stroke="#444" stroke-width="0.8" />
<text transform="translate(616.10,744.05) rotate(-30)" font-size="18.2" fill="#262626" text-anchor="end">JJA</text>
<line x1="652.20" y1="721.75" x2="652.20" y2="719.55" stroke="#444" stroke-width="0.8" />
<line x1="652.20" y1="565.00" x2="652.20" y2="567.20" stroke="#444" stroke-width="0.8" />
<text transform="translate(661.10,744.05) rotate(-30)" font-size="18.2" fill="#262626" text-anchor="end">Annual</text>
<line x1="472.20" y1="659.30" x2="472.20" y2="697.20" stroke="#dc143c" stroke-width="5.2" />
<circle cx="472.20" cy="677.90" r="4.9" fill="#dc143c"/>
<line x1="517.20" y1="631.30" x2="517.20" y2="695.40" stroke="#dc143c" stroke-width="5.2" />
<circle cx="517.20" cy="664.20" r="4.9" fill="#dc143c"/>
<line x1="562.20" y1="572.10" x2="562.20" y2="633.40" stroke="#dc143c" stroke-width="5.2" />
<circle cx="562.20" cy="601.50" r="4.9" fill="#dc143c"/>
<line x1="607.20" y1="607.10" x2="607.20" y2="654.10" stroke="#dc143c" stroke-width="5.2" />
<circle cx="607.20" cy="629.90" r="4.9" fill="#dc143c"/>
<line x1="652.20" y1="625.30" x2="652.20" y2="662.10" stroke="#dc143c" stroke-width="5.2" />
<circle cx="652.20" cy="643.20" r="4.9" fill="#dc143c"/>
<text x="454.85" y="585.30" font-size="18.5" fill="#000" text-anchor="start" font-weight="bold" >(d)</text>
<text x="582.50" y="588.30" font-size="16.4" fill="#dc143c" text-anchor="start" font-weight="normal" >1982-2015</text>
<rect x="103.50" y="798.45" width="225.55" height="156.75" fill="none" stroke="#9a9a9a" stroke-width="1"/>
<line x1="103.50" y1="851.10" x2="329.05" y2="851.10" stroke="#777" stroke-width="1" stroke-dasharray="1.9 2.2"/>
<line x1="103.50" y1="940.27" x2="105.70" y2="940.27" stroke="#444" stroke-width="0.8" />
<line x1="329.05" y1="940.27" x2="326.85" y2="940.27" stroke="#444" stroke-width="0.8" />
<text x="95.10" y="946.87" font-size="18.0" fill="#262626" text-anchor="end" font-weight="normal" >-0.06</text>
<line x1="103.50" y1="910.41" x2="105.70" y2="910.41" stroke="#444" stroke-width="0.8" />
<line x1="329.05" y1="910.41" x2="326.85" y2="910.41" stroke="#444" stroke-width="0.8" />
<text x="95.10" y="917.01" font-size="18.0" fill="#262626" text-anchor="end" font-weight="normal" >-0.04</text>
<line x1="103.50" y1="880.56" x2="105.70" y2="880.56" stroke="#444" stroke-width="0.8" />
<line x1="329.05" y1="880.56" x2="326.85" y2="880.56" stroke="#444" stroke-width="0.8" />
<text x="95.10" y="887.16" font-size="18.0" fill="#262626" text-anchor="end" font-weight="normal" >-0.02</text>
<line x1="103.50" y1="850.70" x2="105.70" y2="850.70" stroke="#444" stroke-width="0.8" />
<line x1="329.05" y1="850.70" x2="326.85" y2="850.70" stroke="#444" stroke-width="0.8" />
<text x="95.10" y="857.30" font-size="18.0" fill="#262626" text-anchor="end" font-weight="normal" >0</text>
<line x1="103.50" y1="820.84" x2="105.70" y2="820.84" stroke="#444" stroke-width="0.8" />
<line x1="329.05" y1="820.84" x2="326.85" y2="820.84" stroke="#444" stroke-width="0.8" />
<text x="95.10" y="827.44" font-size="18.0" fill="#262626" text-anchor="end" font-weight="normal" >0.02</text>
<line x1="125.50" y1="955.20" x2="125.50" y2="953.00" stroke="#444" stroke-width="0.8" />
<line x1="125.50" y1="798.45" x2="125.50" y2="800.65" stroke="#444" stroke-width="0.8" />
<text transform="translate(134.40,977.50) rotate(-30)" font-size="18.2" fill="#262626" text-anchor="end">SON</text>
<line x1="170.73" y1="955.20" x2="170.73" y2="953.00" stroke="#444" stroke-width="0.8" />
<line x1="170.73" y1="798.45" x2="170.73" y2="800.65" stroke="#444" stroke-width="0.8" />
<text transform="translate(179.63,977.50) rotate(-30)" font-size="18.2" fill="#262626" text-anchor="end">DJF</text>
<line x1="215.96" y1="955.20" x2="215.96" y2="953.00" stroke="#444" stroke-width="0.8" />
<line x1="215.96" y1="798.45" x2="215.96" y2="800.65" stroke="#444" stroke-width="0.8" />
<text transform="translate(224.86,977.50) rotate(-30)" font-size="18.2" fill="#262626" text-anchor="end">MAM</text>
<line x1="261.19" y1="955.20" x2="261.19" y2="953.00" stroke="#444" stroke-width="0.8" />
<line x1="261.19" y1="798.45" x2="261.19" y2="800.65" stroke="#444" stroke-width="0.8" />
<text transform="translate(270.09,977.50) rotate(-30)" font-size="18.2" fill="#262626" text-anchor="end">JJA</text>
<line x1="306.42" y1="955.20" x2="306.42" y2="953.00" stroke="#444" stroke-width="0.8" />
<line x1="306.42" y1="798.45" x2="306.42" y2="800.65" stroke="#444" stroke-width="0.8" />
<text transform="translate(315.32,977.50) rotate(-30)" font-size="18.2" fill="#262626" text-anchor="end">Annual</text>
<line x1="125.50" y1="868.80" x2="125.50" y2="889.90" stroke="#ffb6c1" stroke-width="5.2" />
<circle cx="125.50" cy="880.00" r="4.9" fill="#ffb6c1"/>
<line x1="170.73" y1="898.60" x2="170.73" y2="943.50" stroke="#ffb6c1" stroke-width="5.2" />
<circle cx="170.73" cy="923.80" r="4.9" fill="#ffb6c1"/>
<line x1="215.96" y1="872.30" x2="215.96" y2="908.10" stroke="#ffb6c1" stroke-width="5.2" />
<circle cx="215.96" cy="891.60" r="4.9" fill="#ffb6c1"/>
<line x1="261.19" y1="866.40" x2="261.19" y2="895.10" stroke="#ffb6c1" stroke-width="5.2" />
<circle cx="261.19" cy="881.80" r="4.9" fill="#ffb6c1"/>
<line x1="306.42" y1="881.80" x2="306.42" y2="903.90" stroke="#ffb6c1" stroke-width="5.2" />
<circle cx="306.42" cy="894.10" r="4.9" fill="#ffb6c1"/>
<text x="108.80" y="818.75" font-size="18.5" fill="#000" text-anchor="start" font-weight="bold" >(e)</text>
<text x="235.50" y="821.75" font-size="16.4" fill="#ffb6c1" text-anchor="start" font-weight="normal" >2000-2022</text>
<rect x="449.55" y="798.45" width="225.85" height="156.75" fill="none" stroke="#9a9a9a" stroke-width="1"/>
<line x1="449.55" y1="851.10" x2="675.40" y2="851.10" stroke="#777" stroke-width="1" stroke-dasharray="1.9 2.2"/>
<line x1="449.55" y1="955.20" x2="451.75" y2="955.20" stroke="#444" stroke-width="0.8" />
<line x1="675.40" y1="955.20" x2="673.20" y2="955.20" stroke="#444" stroke-width="0.8" />
<text x="441.15" y="961.80" font-size="18.0" fill="#262626" text-anchor="end" font-weight="normal" >-0.03</text>
<line x1="449.55" y1="920.37" x2="451.75" y2="920.37" stroke="#444" stroke-width="0.8" />
<line x1="675.40" y1="920.37" x2="673.20" y2="920.37" stroke="#444" stroke-width="0.8" />
<text x="441.15" y="926.97" font-size="18.0" fill="#262626" text-anchor="end" font-weight="normal" >-0.02</text>
<line x1="449.55" y1="885.53" x2="451.75" y2="885.53" stroke="#444" stroke-width="0.8" />
<line x1="675.40" y1="885.53" x2="673.20" y2="885.53" stroke="#444" stroke-width="0.8" />
<text x="441.15" y="892.13" font-size="18.0" fill="#262626" text-anchor="end" font-weight="normal" >-0.01</text>
<line x1="449.55" y1="850.70" x2="451.75" y2="850.70" stroke="#444" stroke-width="0.8" />
<line x1="675.40" y1="850.70" x2="673.20" y2="850.70" stroke="#444" stroke-width="0.8" />
<text x="441.15" y="857.30" font-size="18.0" fill="#262626" text-anchor="end" font-weight="normal" >0</text>
<line x1="449.55" y1="815.87" x2="451.75" y2="815.87" stroke="#444" stroke-width="0.8" />
<line x1="675.40" y1="815.87" x2="673.20" y2="815.87" stroke="#444" stroke-width="0.8" />
<text x="441.15" y="822.47" font-size="18.0" fill="#262626" text-anchor="end" font-weight="normal" >0.01</text>
<line x1="472.20" y1="955.20" x2="472.20" y2="953.00" stroke="#444" stroke-width="0.8" />
<line x1="472.20" y1="798.45" x2="472.20" y2="800.65" stroke="#444" stroke-width="0.8" />
<text transform="translate(481.10,977.50) rotate(-30)" font-size="18.2" fill="#262626" text-anchor="end">SON</text>
<line x1="517.20" y1="955.20" x2="517.20" y2="953.00" stroke="#444" stroke-width="0.8" />
<line x1="517.20" y1="798.45" x2="517.20" y2="800.65" stroke="#444" stroke-width="0.8" />
<text transform="translate(526.10,977.50) rotate(-30)" font-size="18.2" fill="#262626" text-anchor="end">DJF</text>
<line x1="562.20" y1="955.20" x2="562.20" y2="953.00" stroke="#444" stroke-width="0.8" />
<line x1="562.20" y1="798.45" x2="562.20" y2="800.65" stroke="#444" stroke-width="0.8" />
<text transform="translate(571.10,977.50) rotate(-30)" font-size="18.2" fill="#262626" text-anchor="end">MAM</text>
<line x1="607.20" y1="955.20" x2="607.20" y2="953.00" stroke="#444" stroke-width="0.8" />
<line x1="607.20" y1="798.45" x2="607.20" y2="800.65" stroke="#444" stroke-width="0.8" />
<text transform="translate(616.10,977.50) rotate(-30)" font-size="18.2" fill="#262626" text-anchor="end">JJA</text>
<line x1="652.20" y1="955.20" x2="652.20" y2="953.00" stroke="#444" stroke-width="0.8" />
<line x1="652.20" y1="798.45" x2="652.20" y2="800.65" stroke="#444" stroke-width="0.8" />
<text transform="translate(661.10,977.50) rotate(-30)" font-size="18.2" fill="#262626" text-anchor="end">Annual</text>
<line x1="472.20" y1="854.10" x2="472.20" y2="901.10" stroke="#065581" stroke-width="5.2" />
<circle cx="472.20" cy="878.60" r="4.9" fill="#065581"/>
<line x1="517.20" y1="881.10" x2="517.20" y2="947.00" stroke="#065581" stroke-width="5.2" />
<circle cx="517.20" cy="915.40" r="4.9" fill="#065581"/>
<line x1="562.20" y1="856.60" x2="562.20" y2="909.10" stroke="#065581" stroke-width="5.2" />
<circle cx="562.20" cy="881.10" r="4.9" fill="#065581"/>
<line x1="607.20" y1="869.20" x2="607.20" y2="906.70" stroke="#065581" stroke-width="5.2" />
<circle cx="607.20" cy="890.20" r="4.9" fill="#065581"/>
<line x1="652.20" y1="873.40" x2="652.20" y2="907.40" stroke="#065581" stroke-width="5.2" />
<circle cx="652.20" cy="892.70" r="4.9" fill="#065581"/>
<text x="454.85" y="818.75" font-size="18.5" fill="#000" text-anchor="start" font-weight="bold" >(f)</text>
<text x="583.20" y="821.75" font-size="16.4" fill="#065581" text-anchor="start" font-weight="normal" >2000-2022</text>
<text transform="translate(31.00,643.70) rotate(-90)" font-size="20.2" fill="#262626" text-anchor="middle">Precipitation</text>
<text transform="translate(60.80,644.00) rotate(-90)" font-size="20.2" fill="#262626" text-anchor="middle">[mm month<tspan font-size="14.8" dx="2.0" dy="-9.5">-1</tspan><tspan dx="2.5" dy="9.5"> decade</tspan><tspan font-size="14.8" dx="2.0" dy="-9.5">-1</tspan><tspan dx="2.5" dy="9.5">]</tspan></text>
<text transform="translate(361.50,641.80) rotate(-90)" font-size="20.2" fill="#262626" text-anchor="middle">NDVI</text>
<text transform="translate(392.00,644.00) rotate(-90)" font-size="20.2" fill="#262626" text-anchor="middle">[decade<tspan font-size="14.8" dx="2.0" dy="-9.5">-1</tspan><tspan dx="2.5" dy="9.5">]</tspan></text>
<text transform="translate(14.50,875.60) rotate(-90)" font-size="20.2" fill="#262626" text-anchor="middle">NDVI</text>
<text transform="translate(45.50,877.00) rotate(-90)" font-size="20.2" fill="#262626" text-anchor="middle">[decade<tspan font-size="14.8" dx="2.0" dy="-9.5">-1</tspan><tspan dx="2.5" dy="9.5">]</tspan></text>
<text transform="translate(362.40,877.50) rotate(-90)" font-size="20.2" fill="#262626" text-anchor="middle">Soil moisture</text>
<text transform="translate(392.50,876.60) rotate(-90)" font-size="20.2" fill="#262626" text-anchor="middle">[cm<tspan font-size="14.8" dx="2.0" dy="-9.5">3</tspan><tspan dx="2.5" dy="9.5"> cm</tspan><tspan font-size="14.8" dx="2.0" dy="-9.5">-3</tspan><tspan dx="2.5" dy="9.5"> decade</tspan><tspan font-size="14.8" dx="2.0" dy="-9.5">-1</tspan><tspan dx="2.5" dy="9.5">]</tspan></text>
</svg>
</body></html>
